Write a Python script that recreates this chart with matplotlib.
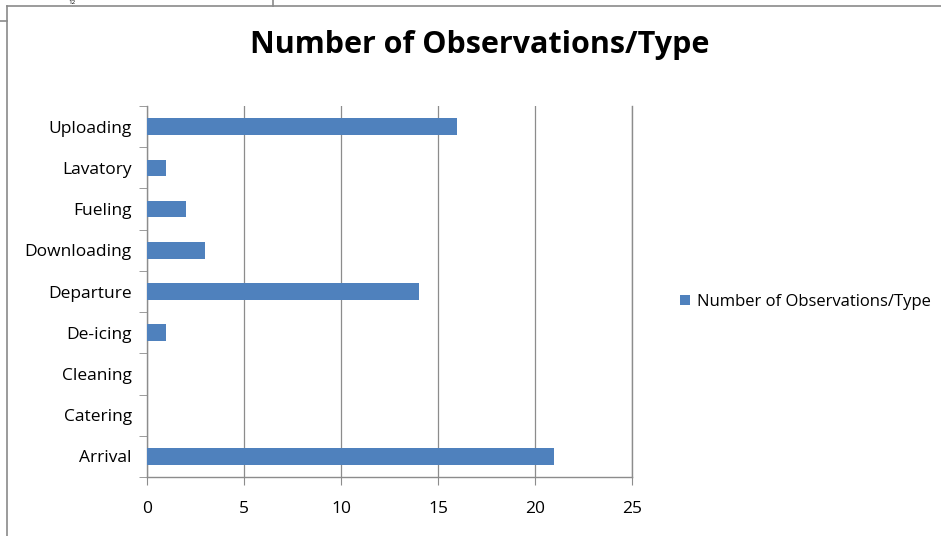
import matplotlib.pyplot as plt
from matplotlib.lines import Line2D
from matplotlib.patches import Patch

# observation counts per activity type (bottom to top)
categories = ["Arrival", "Catering", "Cleaning", "De-icing", "Departure",
              "Downloading", "Fueling", "Lavatory", "Uploading"]
counts = [21, 0, 0, 1, 14, 3, 2, 1, 16]
x_ticks = [0, 5, 10, 15, 20, 25]
series_name = "Number of Observations/Type"

W, H = 941, 536
bar_color = "#4F81BD"
grid_color = "#8C8C8C"
font = ["Open Sans", "DejaVu Sans"]

fig = plt.figure(figsize=(W / 100, H / 100), dpi=100)
fig.patch.set_facecolor("white")

def px(x, y):
    return x / W, 1 - y / H

# chart area frame and sheet lines around it
frame = "#8A8A8A"
for (x0, y0), (x1, y1) in [((7, 6), (941, 6)), ((7, 6), (7, 536)),
                           ((273, 0), (273, 6)), ((0, 21), (7, 21))]:
    a, b = px(x0, y0)
    c, d = px(x1, y1)
    fig.add_artist(Line2D([a, c], [b, d], color=frame, lw=1.2))
fig.text(*px(72, 0.5), "12", fontsize=4.5, family=font, ha="center", va="top")

ax = fig.add_axes([147 / W, (H - 477) / H, (632 - 147) / W, (477 - 106) / H])
pos = list(range(len(categories)))
ax.barh(pos, counts, height=0.4, color=bar_color, zorder=3)

ax.set_xlim(0, 25)
ax.set_ylim(-0.5, len(categories) - 0.5)
ax.set_xticks(x_ticks)
ax.set_xticklabels([str(t) for t in x_ticks], fontsize=12.5, family=font)
ax.set_yticks(pos)
ax.set_yticklabels(categories, fontsize=12.5, family=font)
ax.set_yticks([p - 0.5 for p in pos] + [len(categories) - 0.5], minor=True)

ax.grid(axis="x", color=grid_color, lw=0.9, zorder=0)
ax.spines["top"].set_visible(False)
for s in ["left", "bottom", "right"]:
    ax.spines[s].set_color(grid_color)
    ax.spines[s].set_linewidth(1.0)

ax.tick_params(axis="x", length=6, color=grid_color, pad=11)
ax.tick_params(axis="y", which="major", length=0, pad=11)
ax.tick_params(axis="y", which="minor", length=6, color=grid_color)

handle = Patch(facecolor=bar_color, edgecolor="none")
fig.legend([handle], [series_name], loc="center left",
           bbox_to_anchor=px(673, 302), frameon=False,
           prop={"family": font, "size": 12}, handlelength=0.6,
           handleheight=0.6, handletextpad=0.45, borderaxespad=0)

fig.text(*px(480, 45), series_name, fontsize=22, fontweight="bold",
         family=font, ha="center", va="center")

fig.savefig("out.png", dpi=100)
